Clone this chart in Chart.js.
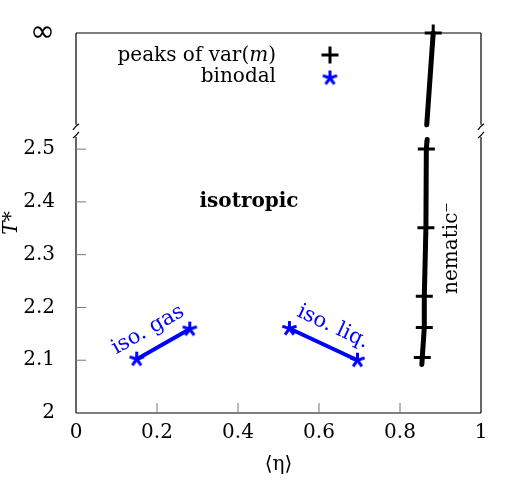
<!DOCTYPE html>
<html>
<head>
<meta charset="utf-8">
<script src="https://cdn.jsdelivr.net/npm/chart.js@4.4.0/dist/chart.umd.min.js"></script>
<style>
  html, body { margin: 0; padding: 0; background: #fff; }
  #wrap { width: 506px; height: 488px; }
</style>
</head>
<body>
<div id="wrap"><canvas id="phaseChart"></canvas></div>
<script>
// values
var peaksX = [0.855, 0.860, 0.860, 0.864, 0.865, 0.882];
var peaksY = [2.105, 2.162, 2.221, 2.351, 2.500, 2.72];   // last one sits on the "infinity" row

var peaksLowX = [0.854, 0.855, 0.860, 0.860, 0.864, 0.865, 0.867];
var peaksLowY = [2.092, 2.105, 2.162, 2.221, 2.351, 2.500, 2.518];
var peaksHighX = [0.866, 0.882];
var peaksHighY = [2.546, 2.72];

var gasX = [0.150, 0.281];
var gasY = [2.102, 2.159];
var liqX = [0.527, 0.695];
var liqY = [2.160, 2.100];

var xTicks = [0, 0.2, 0.4, 0.6, 0.8, 1];
var yTicks = [2, 2.1, 2.2, 2.3, 2.4, 2.5];
var yInf = 2.72;
var yBreak = [2.523, 2.546];

const serif = 'DejaVu Serif';
const blue = '#0000ff';

function pts(xs, ys) {
    return xs.map((x, i) => ({ x: x, y: ys[i] }));
}

// pgfplots style five armed star
function makeStar(r, color, lw) {
    const c = document.createElement('canvas');
    c.width = c.height = Math.ceil(r * 2 + lw * 2);
    const g = c.getContext('2d');
    const m = c.width / 2;
    g.strokeStyle = color;
    g.lineWidth = lw;
    g.beginPath();
    for (let k = 0; k < 5; k++) {
        const a = -Math.PI / 2 + k * 2 * Math.PI / 5;
        g.moveTo(m, m);
        g.lineTo(m + r * Math.cos(a), m + r * Math.sin(a));
    }
    g.stroke();
    return c;
}
const starImg = makeStar(7.5, blue, 3);

const framePlugin = {
    id: 'frame',
    beforeDatasetsDraw(chart) {
        const ctx = chart.ctx;
        const a = chart.chartArea;
        const xs = chart.scales.x, ys = chart.scales.y;
        const b0 = ys.getPixelForValue(yBreak[0]);
        const b1 = ys.getPixelForValue(yBreak[1]);
        ctx.save();
        ctx.strokeStyle = '#000';
        ctx.lineWidth = 1.2;
        ctx.beginPath();
        ctx.moveTo(a.left, a.bottom); ctx.lineTo(a.right, a.bottom);
        ctx.moveTo(a.left, a.top); ctx.lineTo(a.right, a.top);
        [a.left, a.right].forEach(x => {
            ctx.moveTo(x, a.bottom); ctx.lineTo(x, b0);
            ctx.moveTo(x, b1); ctx.lineTo(x, a.top);
            // break marks
            ctx.moveTo(x - 3, b0 + 1); ctx.quadraticCurveTo(x, b0 - 1, x + 3, b0 - 5);
            ctx.moveTo(x - 3, b1 + 5); ctx.quadraticCurveTo(x, b1 + 1, x + 3, b1 - 1);
        });
        ctx.stroke();

        // inward ticks
        ctx.strokeStyle = '#777';
        ctx.lineWidth = 1;
        ctx.beginPath();
        xTicks.slice(1, -1).forEach(v => {
            const px = xs.getPixelForValue(v);
            ctx.moveTo(px, a.bottom); ctx.lineTo(px, a.bottom - 10);
        });
        yTicks.slice(1).forEach(v => {
            const py = ys.getPixelForValue(v);
            ctx.moveTo(a.left, py); ctx.lineTo(a.left + 10, py);
        });
        ctx.stroke();
        ctx.restore();
    },
    afterDatasetsDraw(chart) {
        const ctx = chart.ctx;
        const xs = chart.scales.x, ys = chart.scales.y;
        ctx.save();
        ctx.fillStyle = '#000';

        // legend
        ctx.font = '20px "' + serif + '"';
        ctx.textAlign = 'right';
        ctx.textBaseline = 'alphabetic';
        const lx = 276;
        ctx.fillText(')', lx, 61);
        let w = ctx.measureText(')').width;
        ctx.font = 'italic 20px "' + serif + '"';
        ctx.fillText('m', lx - w, 61);
        w += ctx.measureText('m').width;
        ctx.font = '20px "' + serif + '"';
        ctx.fillText('peaks of var(', lx - w, 61);
        ctx.fillText('binodal', lx, 82);
        Chart.helpers.drawPoint(ctx, { pointStyle: 'cross', radius: 8.5, borderWidth: 3 }, 330, 55);
        ctx.drawImage(starImg, 330 - starImg.width / 2, 78 - starImg.height / 2);

        // region labels
        ctx.textAlign = 'center';
        ctx.textBaseline = 'middle';
        ctx.font = 'bold 20px "' + serif + '"';
        ctx.fillText('isotropic', 249, 202);

        ctx.font = '20px "' + serif + '"';
        ctx.save();
        ctx.translate(452, 248);
        ctx.rotate(-Math.PI / 2);
        ctx.fillText('nematic\u207B', 0, 0);
        ctx.restore();

        // labels along the binodal lines
        ctx.fillStyle = blue;
        ctx.font = '21px "' + serif + '"';
        [[gasX, gasY, 'iso. gas', 148, 330], [liqX, liqY, 'iso. liq.', 333, 327]].forEach(l => {
            const x0 = xs.getPixelForValue(l[0][0]), y0 = ys.getPixelForValue(l[1][0]);
            const x1 = xs.getPixelForValue(l[0][1]), y1 = ys.getPixelForValue(l[1][1]);
            ctx.save();
            ctx.translate(l[3], l[4]);
            ctx.rotate(Math.atan2(y1 - y0, x1 - x0));
            ctx.fillText(l[2], 0, 0);
            ctx.restore();
        });
        ctx.restore();
    }
};

const phaseData = {
    datasets: [{
            label: 'peaks low',
            data: pts(peaksLowX, peaksLowY),
            showLine: true,
            borderColor: '#000',
            borderWidth: 5,
            borderCapStyle: 'round',
            pointRadius: 0
        },
        {
            label: 'peaks high',
            data: pts(peaksHighX, peaksHighY),
            showLine: true,
            borderColor: '#000',
            borderWidth: 5,
            borderCapStyle: 'round',
            pointRadius: 0,
            clip: false
        },
        {
            label: 'peaks of var(m)',
            data: pts(peaksX, peaksY),
            showLine: false,
            pointStyle: 'cross',
            pointRadius: 8.5,
            borderColor: '#000',
            borderWidth: 3,
            clip: false
        },
        {
            label: 'binodal',
            data: pts(gasX, gasY),
            showLine: true,
            borderColor: blue,
            borderWidth: 4,
            pointStyle: starImg,
            pointRadius: 7.5
        },
        {
            label: 'binodal liq',
            data: pts(liqX, liqY),
            showLine: true,
            borderColor: blue,
            borderWidth: 4,
            pointStyle: starImg,
            pointRadius: 7.5
        }
    ]
};

const phaseConfig = {
    type: 'scatter',
    data: phaseData,
    options: {
        responsive: true,
        maintainAspectRatio: false,
        animation: false,
        events: [],
        layout: { padding: { top: 33, right: 25, left: 0, bottom: 0 } },
        plugins: {
            legend: { display: false },
            tooltip: { enabled: false }
        },
        scales: {
            x: {
                type: 'linear',
                min: 0,
                max: 1,
                afterBuildTicks: s => { s.ticks = xTicks.map(v => ({ value: v })); },
                afterFit: s => { s.height = 75; s.paddingLeft = 0; s.paddingRight = 0; },
                grid: { display: false, drawTicks: false },
                border: { display: false },
                ticks: {
                    color: '#000',
                    padding: 8,
                    font: { family: serif, size: 20 },
                    callback: v => String(v)
                },
                title: {
                    display: true,
                    text: '\u27E8\u03B7\u27E9',
                    color: '#000',
                    font: { family: serif, size: 20 },
                    padding: { top: 4, bottom: 11 }
                }
            },
            y: {
                type: 'linear',
                min: 2,
                max: yInf,
                afterBuildTicks: s => { s.ticks = yTicks.concat([yInf]).map(v => ({ value: v })); },
                afterFit: s => { s.width = 76; s.paddingTop = 0; s.paddingBottom = 0; },
                grid: { display: false, drawTicks: false },
                border: { display: false },
                ticks: {
                    color: '#000',
                    padding: 21,
                    font: ctx => (ctx.index === yTicks.length ?
                        { family: 'DejaVu Sans', size: 30 } : { family: serif, size: 20 }),
                    callback: v => v === yInf ? '\u221E' : String(v)
                },
                title: {
                    display: true,
                    text: 'T*',
                    color: '#000',
                    font: { family: serif, size: 20, style: 'italic' },
                    padding: { top: 0, bottom: 0 }
                }
            }
        }
    },
    plugins: [framePlugin]
};

const phaseChart = new Chart(
    document.getElementById('phaseChart'),
    phaseConfig
);
</script>
</body>
</html>
